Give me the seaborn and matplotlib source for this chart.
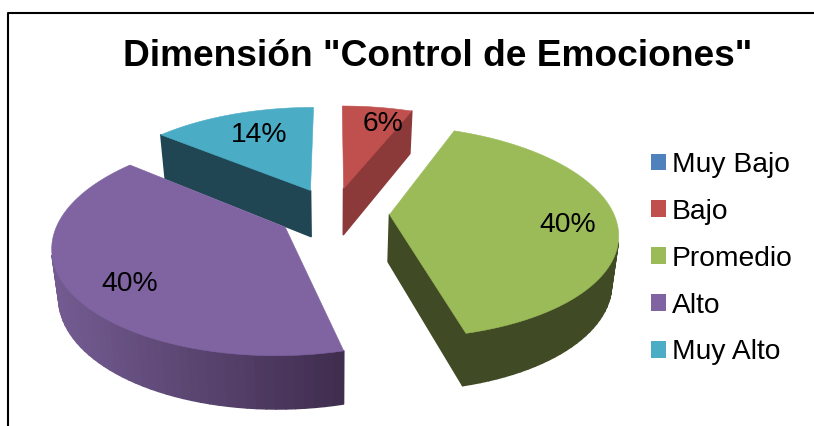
import numpy as np
import matplotlib
matplotlib.use('Agg')
import matplotlib.pyplot as plt
import seaborn as sns
from matplotlib.patches import Patch, Polygon
from matplotlib.lines import Line2D
from matplotlib.colors import to_rgb

categorias = ['Muy Bajo', 'Bajo', 'Promedio', 'Alto', 'Muy Alto']
valores = [0, 6, 40, 40, 14]
titulo = 'Dimensión "Control de Emociones"'

cores = ['#4f81bd', '#c0504d', '#9bbb59', '#8064a2', '#4bacc6']
cores_lado = ['#3a5f8c', '#8c3a39', '#404b25', '#3f2d4e', '#1f4652']
lado_claro = '#745c92'

# posicao dos rotulos em pixels da figura
pos_rotulos = [None, (383, 124), (568, 225), (130, 284), (259, 135)]

# perspectiva do disco
CX, CY = 333.5, 213
RX, RY = 224, 103
K = 0.16
PROF = 47
ESCALA_BASE = 0.975


def projetar(x, y, base=False):
    f = 1 / (1 + K * y)
    px = RX * x * f
    py = CY - RY * y * f
    if base:
        return CX + px * ESCALA_BASE, py + PROF * (1 + 0.6 * (f - 1))
    return CX + px, py


sns.set_theme(style='white')
plt.rcParams['font.family'] = ['Liberation Sans', 'DejaVu Sans']

fig = plt.figure(figsize=(8.14, 4.26), dpi=100)
ax = fig.add_axes([0, 0, 1, 1])

# o pie calcula os angulos e o explode de cada fatia
wedges, _ = ax.pie(valores, explode=[0.25] * len(valores), startangle=90, counterclock=False)
ax.set_aspect('auto')
ax.set_xlim(0, 814)
ax.set_ylim(426, 0)
ax.axis('off')


def desenhar_fatia(w, idx):
    ang = np.radians(np.linspace(w.theta1, w.theta2, 70))
    xs = np.r_[w.center[0], w.center[0] + w.r * np.cos(ang)]
    ys = np.r_[w.center[1], w.center[1] + w.r * np.sin(ang)]
    tx, ty = projetar(xs, ys)
    bx, by = projetar(xs, ys, base=True)
    n = len(xs)
    for a in range(n):
        b = (a + 1) % n
        quad = np.array([[tx[a], ty[a]], [tx[b], ty[b]], [bx[b], by[b]], [bx[a], by[a]]])
        qx, qy = quad[:, 0], quad[:, 1]
        area = np.sum(qx * np.roll(qy, -1) - np.roll(qx, -1) * qy)
        if area <= 0:
            continue
        # faces radiais quase verticais nao aparecem no original
        if a in (0, n - 1) and abs(tx[a] - tx[b]) < 8:
            continue
        cor = cores_lado[idx]
        if idx == 3:
            # lado roxo escurece da esquerda para a direita
            t = np.clip((qx.mean() - 55) / (343 - 55), 0, 1)
            cor = tuple((1 - t) * np.array(to_rgb(lado_claro)) + t * np.array(to_rgb(cores_lado[3])))
        ax.add_patch(Polygon(quad, closed=True, facecolor=cor, edgecolor=cor, lw=1.2, joinstyle='round',
                             zorder=2 + idx_ordem[idx]))
    ax.add_patch(Polygon(np.c_[tx, ty], closed=True, facecolor=cores[idx], edgecolor=cores[idx], lw=0.4,
                         zorder=2.5 + idx_ordem[idx]))


# de tras para frente: Muy Alto, Bajo, Promedio, Alto
idx_ordem = {4: 0, 1: 1, 2: 2, 3: 3, 0: 0}
for i, w in enumerate(wedges):
    w.set_visible(False)
    if valores[i] > 0:
        desenhar_fatia(w, i)

for v, p in zip(valores, pos_rotulos):
    if p is not None:
        ax.text(p[0], p[1], f'{v}%', fontsize=20.3, color='black', ha='center', va='center', zorder=10)

ax.text(438, 57, titulo, fontsize=26.7, fontweight='bold', color='black', ha='center', va='center', zorder=10)

handles = [Patch(facecolor=c, edgecolor='none', label=l) for c, l in zip(cores, categorias)]
ax.legend(handles=handles, loc='upper left', bbox_to_anchor=(651 / 814, 1 - 152 / 426), frameon=False,
          fontsize=20.3, handlelength=0.54, handleheight=0.54, handletextpad=0.2,
          labelspacing=0.74, borderpad=0, borderaxespad=0, labelcolor='black')

# moldura cortada: so esquerda e topo aparecem
ax.add_line(Line2D([7.5, 7.5, 814], [426, 13, 13], color='black', lw=1.5, zorder=11))

fig.savefig('out.png', dpi=100)
plt.close(fig)
